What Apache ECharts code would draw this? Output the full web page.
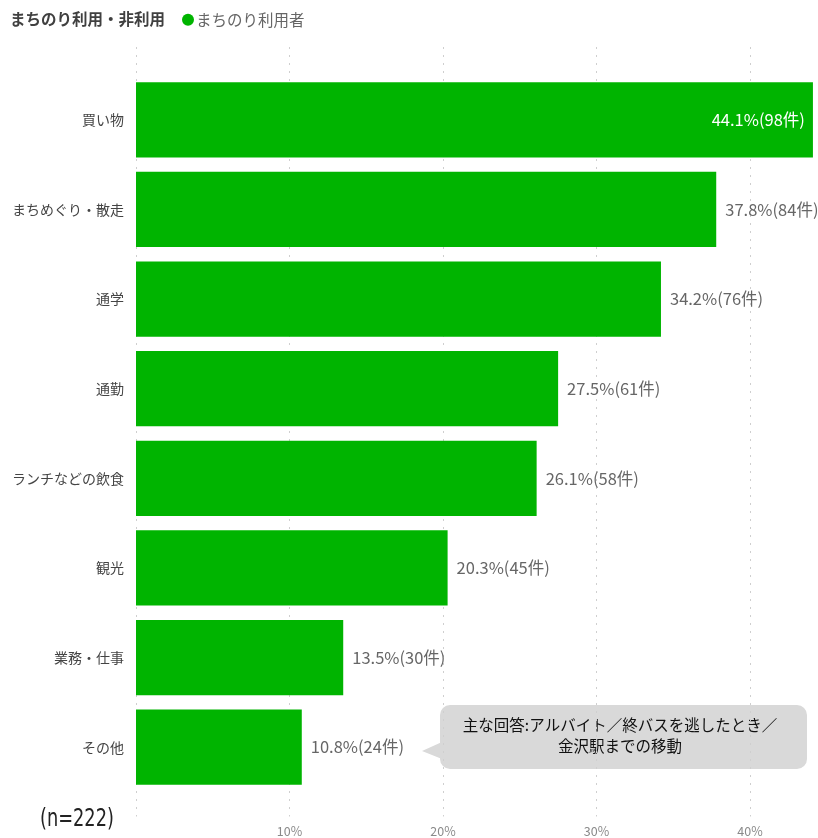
<!DOCTYPE html>
<html>
<head>
<meta charset="utf-8">
<script src="https://cdn.jsdelivr.net/npm/echarts@6/dist/echarts.min.js"></script>
<style>
  html, body { margin: 0; padding: 0; background: #fff; }
  #main { width: 818px; height: 838px; }
</style>
</head>
<body>
<div id="main"></div>
<script>
// data
var categories = ['買い物', 'まちめぐり・散走', '通学', '通勤', 'ランチなどの飲食', '観光', '業務・仕事', 'その他'];
var percents = [44.1, 37.8, 34.2, 27.5, 26.1, 20.3, 13.5, 10.8];
var counts = [98, 84, 76, 61, 58, 45, 30, 24];
var axisMax = 44.43;

var font = '"Noto Sans CJK JP", "Noto Sans", sans-serif';

var barData = percents.map(function (v, i) {
    var item = { value: v };
    if (i === 0) {
        item.label = { position: 'insideRight', color: '#fff', distance: 8 };
    }
    return item;
});

var chart = echarts.init(document.getElementById('main'));
var option = {
    animation: false,
    textStyle: { fontFamily: font },
    title: {
        text: 'まちのり利用・非利用',
        left: 5,
        top: 6,
        textStyle: { fontSize: 15.5, fontWeight: 'bold', color: '#404040', fontFamily: font }
    },
    legend: {
        left: 177,
        top: 7,
        icon: 'circle',
        itemWidth: 12,
        itemHeight: 12,
        itemGap: 4,
        textStyle: { fontSize: 15.5, color: '#666', fontFamily: font, padding: [0, 0, 0, -3] },
        data: ['まちのり利用者']
    },
    grid: [
        { left: 136, right: 0, top: 75, height: 717 },
        { left: 136, right: 0, top: 47, bottom: 18 }
    ],
    xAxis: [
        {
            gridIndex: 0, type: 'value', min: 0, max: axisMax,
            show: false, splitLine: { show: false }
        },
        {
            gridIndex: 1, type: 'value', min: 0, max: axisMax, interval: 10,
            axisLine: { show: false },
            axisTick: { show: false },
            axisLabel: {
                formatter: '{value}%', color: '#8a8a8a', fontSize: 12.5, margin: 9,
                showMinLabel: false, showMaxLabel: false
            },
            splitLine: { show: true, lineStyle: { type: [2, 6], color: '#cfcfcf', width: 1 } }
        }
    ],
    yAxis: [
        {
            gridIndex: 0, type: 'category', data: categories, inverse: true,
            axisLine: { show: false },
            axisTick: { show: false },
            axisLabel: { color: '#444', fontSize: 14, margin: 12 }
        },
        {
            gridIndex: 1, type: 'value', show: false, splitLine: { show: false }
        }
    ],
    series: [{
        name: 'まちのり利用者',
        type: 'bar',
        xAxisIndex: 0,
        yAxisIndex: 0,
        data: barData,
        barCategoryGap: '16%',
        itemStyle: { color: '#00b400' },
        label: {
            show: true,
            position: 'right',
            distance: 9,
            color: '#666',
            fontSize: 16.5,
            formatter: function (p) {
                return p.value + '%(' + counts[p.dataIndex] + '件)';
            }
        }
    }],
    graphic: [
        {
            type: 'text',
            left: 40,
            top: 808,
            scaleX: 0.74,
            style: { text: '(n=222)', fontSize: 24, fill: '#222', fontFamily: '"DejaVu Sans", sans-serif' }
        },
        {
            type: 'polygon',
            shape: { points: [[442, 742], [422, 751], [442, 759]] },
            style: { fill: '#d9d9d9' }
        },
        {
            type: 'rect',
            shape: { x: 440, y: 705, width: 367, height: 64, r: 10 },
            style: { fill: '#d9d9d9' }
        },
        {
            type: 'text',
            x: 620,
            y: 736,
            style: {
                text: '主な回答:アルバイト／終バスを逃したとき／\n金沢駅までの移動',
                fontSize: 15.5,
                lineHeight: 21,
                fill: '#111',
                align: 'center',
                verticalAlign: 'middle',
                fontFamily: font
            }
        }
    ]
};
chart.setOption(option);
</script>
</body>
</html>
